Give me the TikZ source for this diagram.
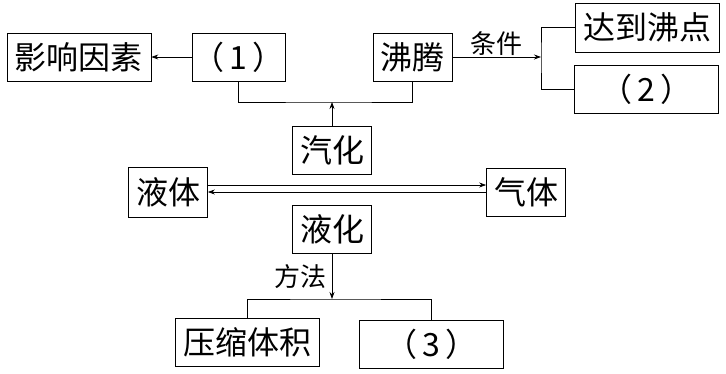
\documentclass[tikz,border=0pt]{standalone}
\usepackage{fontspec}
\newfontfamily\cjk{Noto Sans CJK SC}
\usetikzlibrary{arrows.meta,positioning,calc}
\newcommand{\blank}[1]{（\,#1\,）}

\begin{document}
\begin{tikzpicture}[
    x=1pt,y=-1pt,
    >={Stealth[length=7pt,width=5pt]},
    box/.style={draw,line width=0.7pt,minimum height=48pt,inner sep=0pt,
                font=\cjk\fontsize{32}{32}\selectfont},
    wide/.style={box,minimum width=144pt},
    narrow/.style={box,minimum width=79pt},
    mid/.style={box,minimum width=93pt},
    lbl/.style={font=\cjk\fontsize{26}{26}\selectfont,inner sep=0pt},
    link/.style={line width=0.7pt},
]
\useasboundingbox (0,0) rectangle (726,373);

% ---- boiling branch (top row) ----
\node[wide] (infl) at (79,57) {影响因素};
\node[mid] (q1) at (238.5,57) {\blank{1}};
\node[narrow] (boil) at (412.5,57) {沸腾};
\node[wide,minimum height=49pt] (reach) at (647,27.5) {达到沸点};
\node[wide] (q2) at (646.5,89.5) {\blank{2}};

% ---- the two states ----
\node[narrow] (vap) at (332,150.5) {汽化};
\node[narrow,minimum height=50pt] (liq) at (168,192) {液体};
\node[narrow] (gas) at (526,192) {气体};
\node[narrow] (cond) at (332,229.5) {液化};

% ---- liquefaction methods ----
\node[wide] (press) at (247,342.5) {压缩体积};
\node[wide] (q3) at (431.5,344) {\blank{3}};

% ---- connectors ----
\draw[link,->] (q1) -- (infl);
\coordinate (top) at (332,102);
\draw[link] (q1.south) |- (top) -| (boil.south);
\draw[link,->] (vap) -- (top);

\coordinate (fork) at (541,57);
\draw[link,->] (boil) -- node[lbl,above=1pt]{条件} (fork);
\draw[link] (reach.west) -| (fork) |- (q2.west);

\draw[link,->] ($(liq.east)+(0,-7)$) -- ($(gas.west)+(0,-7)$);
\draw[link,->] (gas.west) -- (liq.east);

\coordinate (split) at (332,299);
\draw[link,->] (cond) -- node[lbl,left=5pt]{方法} (split);
\draw[link] (press.north) |- (split) -| (q3.north);

\end{tikzpicture}
\end{document}
